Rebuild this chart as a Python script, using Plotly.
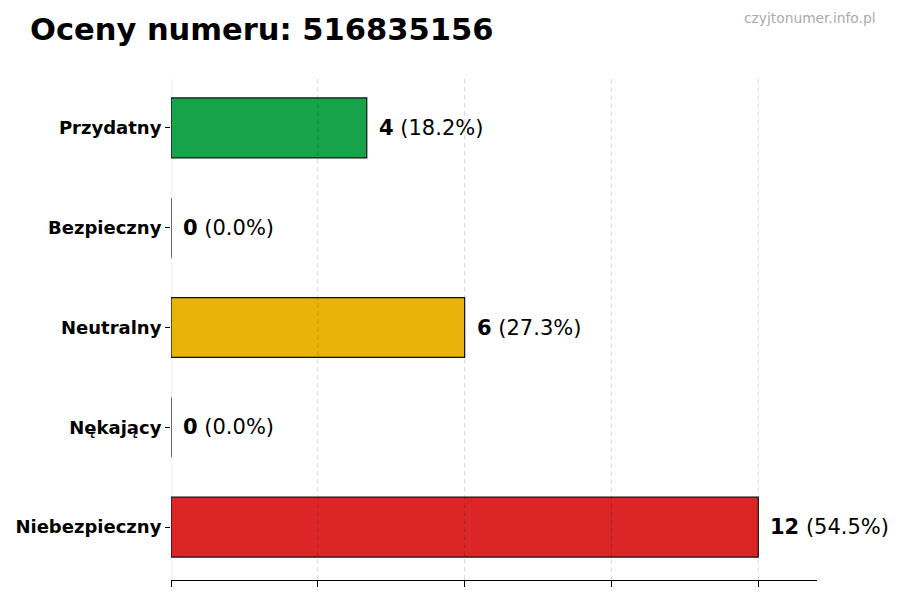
import plotly.graph_objects as go

categories = ["Przydatny", "Bezpieczny", "Neutralny", "Nękający", "Niebezpieczny"]
counts = [4, 0, 6, 0, 12]
colors = ["#16a34a", "#6b7280", "#eab308", "#f97316", "#dc2626"]
grid_ticks = [0, 3, 6, 9, 12]
title_text = "Oceny numeru: 516835156"
watermark = "czyjtonumer.info.pl"

total = sum(counts)
fig = go.Figure()
fig.add_trace(go.Bar(
    y=categories, x=counts, orientation="h",
    marker=dict(color=colors, line=dict(color="#111111", width=1.2)),
    width=0.6, showlegend=False, hoverinfo="skip",
))

for c, v in zip(categories, counts):
    pct = 100.0 * v / total
    fig.add_annotation(
        x=v, y=c, xref="x", yref="y", xanchor="left", yanchor="middle",
        text=f"<b>{v}</b> ({pct:.1f}%)", showarrow=False, xshift=10,
        font=dict(family="DejaVu Sans", size=21, color="black"),
    )

for t in grid_ticks:
    fig.add_shape(
        type="line", xref="x", yref="paper", x0=t, x1=t, y0=0, y1=1,
        line=dict(color="rgba(0,0,0,0.16)", width=1, dash="5px,3px"), layer="above",
    )

fig.add_annotation(
    text=title_text, xref="paper", yref="paper", x=-0.221, y=1.054,
    xanchor="left", yanchor="bottom", showarrow=False,
    font=dict(family="DejaVu Sans", size=30.5, color="black", weight="bold"),
)
fig.add_annotation(
    text=watermark, xref="paper", yref="paper", x=1.094, y=1.095,
    xanchor="right", yanchor="bottom", showarrow=False,
    font=dict(family="DejaVu Sans", size=13.8, color="#aaaaaa"),
)

fig.update_layout(
    width=900, height=600,
    margin=dict(l=163, r=91, t=68, b=28),
    plot_bgcolor="white", paper_bgcolor="white",
    xaxis=dict(
        range=[0, 13.2], tickvals=grid_ticks, showticklabels=False,
        ticks="outside", ticklen=6, tickcolor="black",
        showgrid=False, automargin=False,
        showline=True, linecolor="black", linewidth=1, zeroline=False,
    ),
    yaxis=dict(
        categoryorder="array", categoryarray=categories[::-1],
        range=[-0.53, 4.52], ticks="outside", ticklen=5, tickcolor="black",
        showline=False, showgrid=False, zeroline=False, automargin=False,
        tickfont=dict(family="DejaVu Sans", size=18, color="black", weight="bold"),
    ),
    font=dict(family="DejaVu Sans"),
)

fig.write_html("out.html")
